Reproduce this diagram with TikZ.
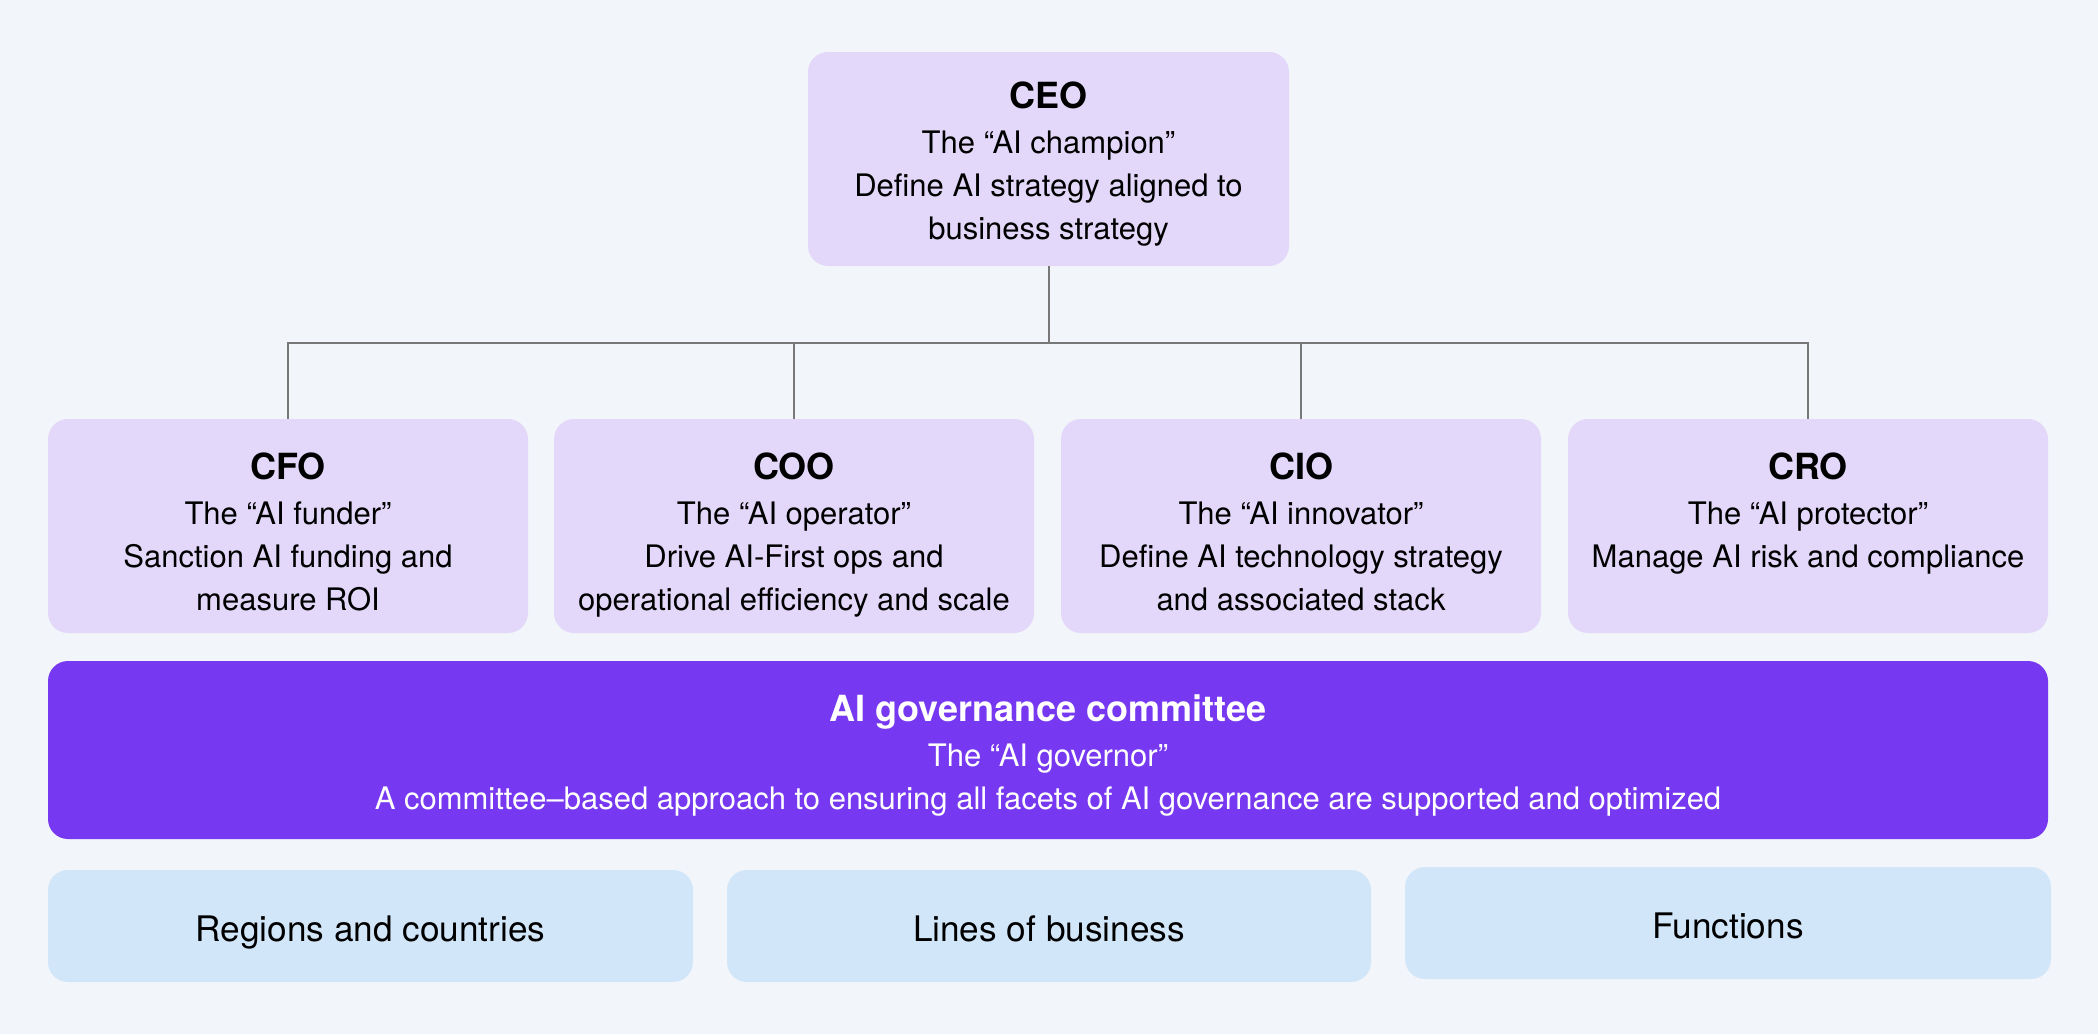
\documentclass[tikz,border=0pt]{standalone}
\usepackage{fontspec}
\setmainfont{TeX Gyre Heros}
\definecolor{bgc}{RGB}{242,245,249}
\definecolor{lav}{RGB}{228,216,250}
\definecolor{govc}{RGB}{118,56,240}
\definecolor{bluec}{RGB}{210,230,250}
\definecolor{linec}{RGB}{120,120,120}
\tikzset{
  boxbase/.style={rectangle, rounded corners=10pt, draw=none, inner sep=0pt},
  execbox/.style={boxbase, fill=lav, minimum width=240pt, minimum height=107pt},
  govbox/.style={boxbase, fill=govc, minimum width=1000pt, minimum height=89pt},
  unitbox/.style={boxbase, fill=bluec, minimum width=322.5pt, minimum height=56pt,
     font=\fontsize{17.6}{20}\selectfont, text=black, text height=16.7pt, text depth=1.3pt},
  txt/.style={anchor=north, align=center, inner sep=0pt,
     font=\fontsize{15.5}{21.5}\selectfont, text=black},
  gtxt/.style={txt, text=white},
  conn/.style={draw=linec, line width=1pt}
}
\newcommand{\ttl}[1]{{\bfseries\fontsize{18}{21.5}\selectfont #1}}
\begin{document}
\begin{tikzpicture}[x=0.5pt,y=-0.5pt]
\useasboundingbox[fill=bgc] (0,0) rectangle (2098,1034);
% boxes
\node[execbox, minimum width=240.5pt] (ceo) at (1048.5,159) {};
\node[execbox] (cfo) at (288,526) {};
\node[execbox] (coo) at (794,526) {};
\node[execbox] (cio) at (1301,526) {};
\node[execbox] (cro) at (1808,526) {};
\node[govbox] (gov) at (1048,750) {};
\node[unitbox] (reg) at (370.5,926) {Regions and countries};
\node[unitbox, minimum width=322pt] (lob) at (1049,926) {Lines of business};
\node[unitbox, minimum width=323pt] (fun) at (1728,923) {Functions};
% texts
\node[txt] (ceo-t) at ([yshift=-15pt]ceo.north) {\ttl{CEO}\\[1pt]The “AI champion”\\Define AI strategy aligned to\\business strategy};
\node[txt] (cfo-t) at ([yshift=-17pt]cfo.north) {\ttl{CFO}\\[1pt]The “AI funder”\\Sanction AI funding and\\measure ROI};
\node[txt] (coo-t) at ([yshift=-17pt]coo.north) {\ttl{COO}\\[1pt]The “AI operator”\\Drive AI-First ops and\\operational efficiency and scale};
\node[txt] (cio-t) at ([yshift=-17pt]cio.north) {\ttl{CIO}\\[1pt]The “AI innovator”\\Define AI technology strategy\\and associated stack};
\node[txt] (cro-t) at ([yshift=-17pt]cro.north) {\ttl{CRO}\\[1pt]The “AI protector”\\Manage AI risk and compliance};
\node[gtxt] (gov-t) at ([yshift=-17pt]gov.north) {\ttl{AI governance committee}\\[1pt]The “AI governor”\\A committee–based approach to ensuring all facets of AI governance are supported and optimized};
% connectors
\coordinate (bus) at (1048.5,343);
\draw[conn] (ceo.south) -- (ceo.south |- bus);
\draw[conn] (cfo.north) |- (bus -| cro.north) -- (cro.north);
\draw[conn] (coo.north) -- (coo.north |- bus);
\draw[conn] (cio.north) -- (cio.north |- bus);
\end{tikzpicture}
\end{document}
